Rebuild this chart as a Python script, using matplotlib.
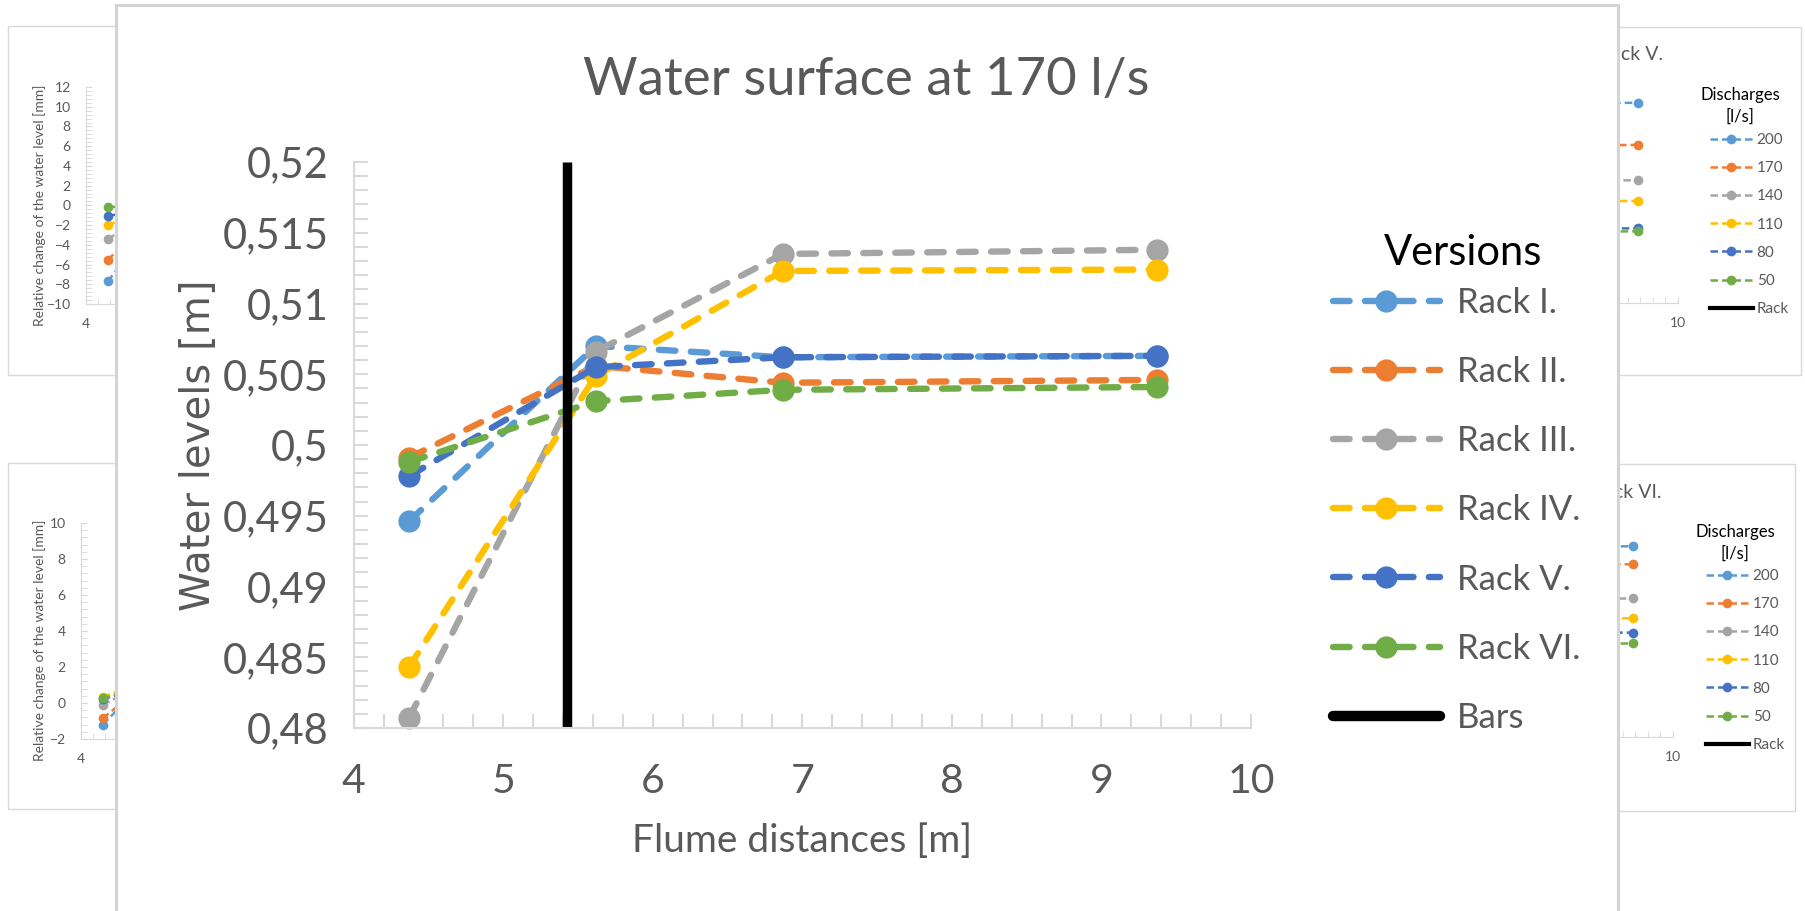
import matplotlib
matplotlib.use('Agg')
import matplotlib.pyplot as plt
from matplotlib.lines import Line2D
from matplotlib.patches import Rectangle
from matplotlib.ticker import MultipleLocator, FixedLocator, FixedFormatter, NullFormatter

W, H = 1806, 911
plt.rcParams['font.family'] = ['Lato', 'DejaVu Sans']

# ---------------- main chart data ----------------
distances = [4.37, 5.62, 6.87, 9.37]
versions = ['Rack I.', 'Rack II.', 'Rack III.', 'Rack IV.', 'Rack V.', 'Rack VI.']
rack_I = [0.4946, 0.5070, 0.5062, 0.5063]
rack_II = [0.4991, 0.5056, 0.5044, 0.5046]
rack_III = [0.4807, 0.5066, 0.5135, 0.5138]
rack_IV = [0.4843, 0.5049, 0.5123, 0.5124]
rack_V = [0.4978, 0.5055, 0.5062, 0.5063]
rack_VI = [0.4988, 0.5031, 0.5039, 0.5041]
bars_x = [5.43, 5.43]
bars_y = [0.48, 0.52]
y_ticks = [0.48, 0.485, 0.49, 0.495, 0.50, 0.505, 0.51, 0.515, 0.52]
y_tick_labels = ['0,48', '0,485', '0,49', '0,495', '0,5', '0,505', '0,51', '0,515', '0,52']
x_ticks = [4, 5, 6, 7, 8, 9, 10]
x_tick_labels = ['4', '5', '6', '7', '8', '9', '10']

# ---------------- background charts data ----------------
discharges = ['200', '170', '140', '110', '80', '50']
tl_200 = [-7.7, 2.0, 3.0, 3.2]
tl_170 = [-5.5, 1.5, 2.5, 2.6]
tl_140 = [-3.4, 1.0, 2.0, 2.1]
tl_110 = [-2.0, 0.8, 1.5, 1.6]
tl_80 = [-1.1, 0.5, 1.0, 1.1]
tl_50 = [-0.2, 0.3, 0.6, 0.7]
tl_y_ticks = [-10, -8, -6, -4, -2, 0, 2, 4, 6, 8, 10, 12]

lb_200 = [-1.2, 3.0, 5.0, 5.2]
lb_170 = [-0.85, 2.5, 4.5, 4.6]
lb_140 = [-0.1, 2.0, 3.5, 3.6]
lb_110 = [0.35, 1.8, 3.0, 3.1]
lb_80 = [0.2, 1.5, 2.5, 2.6]
lb_50 = [0.28, 1.2, 2.0, 2.1]
lb_y_ticks = [-2, 0, 2, 4, 6, 8, 10]

rt_200 = [-7.0, 5.0, 10.2, 10.4]
rt_170 = [-5.0, 3.0, 6.0, 6.1]
rt_140 = [-3.0, 1.0, 2.4, 2.5]
rt_110 = [-2.0, 0.0, 0.3, 0.4]
rt_80 = [-1.5, -1.5, -2.4, -2.4]
rt_50 = [-0.5, -1.5, -2.8, -2.7]

rb_200 = [-1.0, 5.0, 8.5, 8.6]
rb_170 = [-0.8, 4.5, 7.5, 7.6]
rb_140 = [-0.2, 3.5, 5.6, 5.7]
rb_110 = [0.3, 3.0, 4.5, 4.6]
rb_80 = [0.2, 2.5, 3.8, 3.8]
rb_50 = [0.3, 2.0, 3.1, 3.2]

left_x_ticks = [4]
right_x_ticks = [10]

colors = ['#5B9BD5', '#ED7D31', '#A5A5A5', '#FFC000', '#4472C4', '#70AD47']
TXT = '#595959'
GRID = '#D9D9D9'

fig = plt.figure(figsize=(W / 100, H / 100), dpi=100)


def px_axes(left, top, right, bottom, z):
    return fig.add_axes([left / W, 1 - bottom / H, (right - left) / W, (bottom - top) / H], zorder=z)


# canvas for background frames / texts
canvas = fig.add_axes([0, 0, 1, 1], zorder=0)
canvas.set_xlim(0, W)
canvas.set_ylim(H, 0)
canvas.axis('off')
for (x0, y0, w, h) in [(8, 26, 800, 349), (8, 463, 800, 346), (1000, 27, 801, 348), (1000, 464, 795, 347)]:
    canvas.add_patch(Rectangle((x0, y0), w, h, facecolor='white', edgecolor=GRID, lw=1.0))
canvas.text(40, 205, 'Relative change of the water level [mm]', rotation=90, ha='center', va='center',
            fontsize=10, color=TXT)
canvas.text(40, 640, 'Relative change of the water level [mm]', rotation=90, ha='center', va='center',
            fontsize=10, color=TXT)
canvas.text(1663, 55, 'Rack V.', ha='right', va='center', fontsize=14, color=TXT)
canvas.text(1662, 492, 'Rack VI.', ha='right', va='center', fontsize=14, color=TXT)
for (cx, cy) in [(1740, 95), (1735, 532)]:
    canvas.text(cx, cy, 'Discharges', ha='center', va='center', fontsize=12, color='black')
    canvas.text(cx, cy + 22, '[l/s]', ha='center', va='center', fontsize=12, color='black')


def bg_chart(left, top, right, bottom, ylim, yticks, series, xticks, show_y, legend_anchor=None):
    a = px_axes(left, top, right, bottom, 0.5)
    a.set_facecolor('none')
    for vals, c in zip(series, colors):
        a.plot(distances, vals, color=c, lw=1.8, ls=(0, (3, 1.6)), marker='o', ms=7,
               markeredgewidth=0, clip_on=False)
    a.plot(bars_x, ylim, color='black', lw=2.5)
    a.set_xlim(4, 10)
    a.set_ylim(*ylim)
    for s in ['top', 'right']:
        a.spines[s].set_visible(False)
    for s in ['left', 'bottom']:
        a.spines[s].set_color(GRID)
    a.xaxis.set_major_locator(FixedLocator(xticks))
    a.xaxis.set_minor_locator(MultipleLocator(0.2))
    a.yaxis.set_major_locator(FixedLocator(yticks))
    a.yaxis.set_minor_locator(MultipleLocator(0.4))
    if not show_y:
        a.yaxis.set_major_formatter(NullFormatter())
    a.tick_params(which='both', direction='in', length=4, color=GRID, labelsize=10, labelcolor=TXT)
    a.tick_params(axis='y', pad=11)
    a.tick_params(axis='x', pad=10)
    if legend_anchor is not None:
        handles = [Line2D([], [], color=c, lw=1.8, ls=(0, (3, 1.6)), marker='o', ms=7, markeredgewidth=0)
                   for c in colors]
        handles.append(Line2D([], [], color='black', lw=3))
        a.legend(handles, discharges + ['Rack'], loc='upper left', bbox_to_anchor=legend_anchor,
                 bbox_transform=fig.transFigure, frameon=False, fontsize=11, labelcolor=TXT,
                 handlelength=2.8, handletextpad=0.26, labelspacing=0.93, borderpad=0, borderaxespad=0)
    return a


bg_chart(86, 87, 440, 304, (-10, 12), tl_y_ticks, [tl_200, tl_170, tl_140, tl_110, tl_80, tl_50],
         left_x_ticks, True)
bg_chart(81, 523, 435, 739, (-2, 10), lb_y_ticks, [lb_200, lb_170, lb_140, lb_110, lb_80, lb_50],
         left_x_ticks, True)
bg_chart(1300, 87, 1678, 303, (-10, 12), tl_y_ticks, [rt_200, rt_170, rt_140, rt_110, rt_80, rt_50],
         right_x_ticks, False, legend_anchor=(1710 / W, 1 - 133 / H))
bg_chart(1295, 521, 1673, 737, (-2, 10), lb_y_ticks, [rb_200, rb_170, rb_140, rb_110, rb_80, rb_50],
         right_x_ticks, False, legend_anchor=(1706 / W, 1 - 569 / H))

# main chart box
box = px_axes(116, 5, 1618, 925, 1)
box.set_facecolor('white')
box.set_xticks([])
box.set_yticks([])
for s in box.spines.values():
    s.set_color('#D4D4D4')
    s.set_linewidth(2.2)

# main axes
ax = px_axes(353.6, 162, 1251, 728, 2)
ax.set_facecolor('none')
LW = 4.6
DASH = (0, (2.6, 2.4))
series = [rack_I, rack_II, rack_III, rack_IV, rack_V, rack_VI]
for vals, c, name in zip(series, colors, versions):
    ax.plot(distances, vals, color=c, lw=LW, ls=DASH, dash_capstyle='round', marker='o', ms=16,
            markeredgewidth=0, clip_on=False, label=name)
ax.plot(bars_x, bars_y, color='black', lw=6.8, solid_capstyle='butt', clip_on=False)
ax.set_xlim(4, 10)
ax.set_ylim(0.48, 0.52)
for s in ['top', 'right']:
    ax.spines[s].set_visible(False)
for s in ['left', 'bottom']:
    ax.spines[s].set_color(GRID)
    ax.spines[s].set_linewidth(1.5)
ax.xaxis.set_major_locator(FixedLocator(x_ticks))
ax.xaxis.set_major_formatter(FixedFormatter(x_tick_labels))
ax.xaxis.set_minor_locator(MultipleLocator(0.2))
ax.yaxis.set_major_locator(FixedLocator(y_ticks))
ax.yaxis.set_major_formatter(FixedFormatter(y_tick_labels))
ax.yaxis.set_minor_locator(MultipleLocator(0.001))
ax.tick_params(which='both', direction='in', length=10, width=1.5, color=GRID, labelsize=29.5, labelcolor=TXT)
ax.tick_params(axis='y', labelsize=30, pad=18)
ax.tick_params(axis='x', pad=25)

fig.text(866 / W, 1 - 81 / H, 'Water surface at 170 l/s', ha='center', va='center', fontsize=38, color=TXT)
fig.text(199 / W, 1 - 445 / H, 'Water levels [m]', rotation=90, ha='center', va='center', fontsize=29,
         color=TXT, family='DejaVu Sans')
fig.text(802 / W, 1 - 841 / H, 'Flume distances [m]', ha='center', va='center', fontsize=28, color=TXT)
fig.text(1463 / W, 1 - 253 / H, 'Versions', ha='center', va='center', fontsize=30, color='black')

leg_handles = [Line2D([], [], color=c, lw=LW, ls=DASH, dash_capstyle='round', marker='o', ms=16,
                      markeredgewidth=0) for c in colors]
leg_handles.append(Line2D([], [], color='black', lw=7.5, solid_capstyle='round'))
ax.legend(leg_handles, versions + ['Bars'], loc='upper left', bbox_to_anchor=(1333 / W, 1 - 287 / H),
          bbox_transform=fig.transFigure, frameon=False, fontsize=25, labelcolor=TXT,
          handlelength=3.08, handletextpad=0.5, labelspacing=1.07, borderpad=0, borderaxespad=0)

fig.savefig('out.png', dpi=100)
